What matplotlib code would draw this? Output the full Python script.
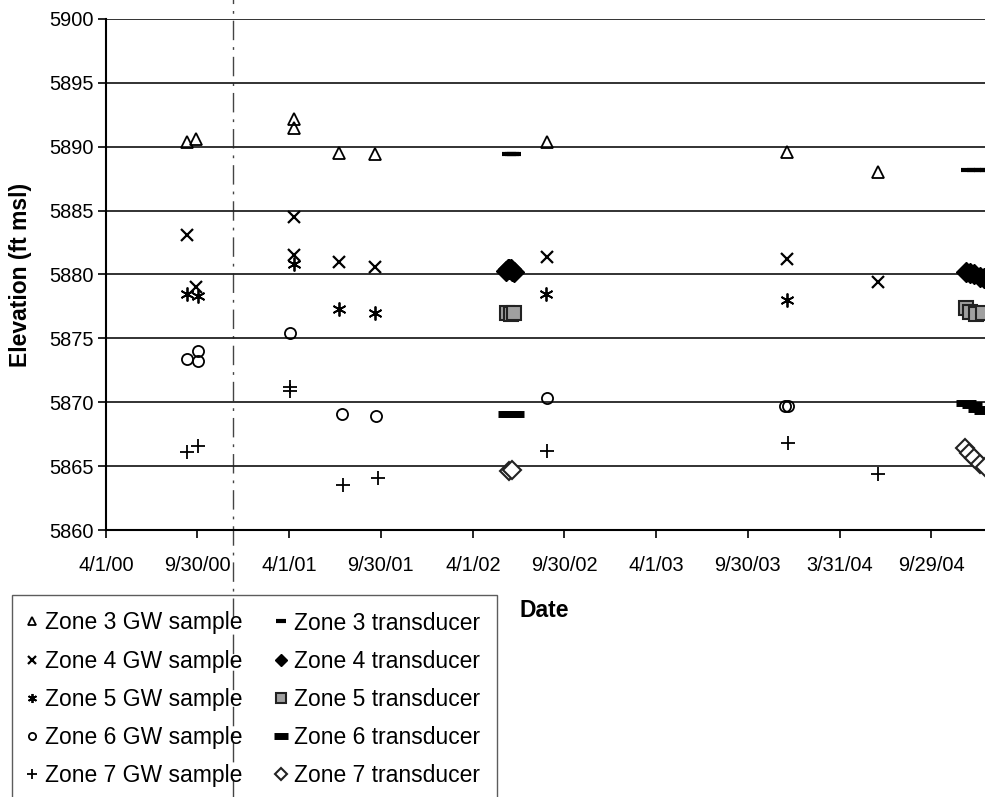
import matplotlib
matplotlib.use("Agg")
import matplotlib.pyplot as plt
from datetime import datetime

plt.rcParams['font.family'] = ['Liberation Sans', 'DejaVu Sans']

# --- data (dates m/d/y, elevation ft msl) ---
z3_gw_dates = ["9/10/00", "9/28/00", "4/11/01", "4/11/01", "7/9/01", "9/18/01",
               "8/26/02", "12/16/03", "6/15/04"]
z3_gw_elev = [5890.4, 5890.6, 5892.2, 5891.5, 5889.5, 5889.4, 5890.4, 5889.6, 5888.0]

z4_gw_dates = ["9/10/00", "9/28/00", "4/11/01", "4/10/01", "7/9/01", "9/18/01",
               "8/26/02", "12/16/03", "6/15/04"]
z4_gw_elev = [5883.1, 5879.0, 5884.5, 5881.5, 5881.0, 5880.6, 5881.4, 5881.2, 5879.4]

z5_gw_dates = ["9/10/00", "10/2/00", "4/10/01", "7/9/01", "9/18/01", "8/25/02", "12/16/03"]
z5_gw_elev = [5878.5, 5878.3, 5880.8, 5877.3, 5877.0, 5878.5, 5878.0]

z6_gw_dates = ["9/10/00", "10/1/00", "10/1/00", "4/2/01", "7/15/01", "9/21/01",
               "8/27/02", "12/14/03", "12/19/03"]
z6_gw_elev = [5873.4, 5874.0, 5873.2, 5875.4, 5869.1, 5868.9, 5870.3, 5869.7, 5869.7]

z7_gw_dates = ["9/10/00", "10/1/00", "4/2/01", "4/2/01", "7/17/01", "9/24/01",
               "8/27/02", "12/18/03", "6/15/04"]
z7_gw_elev = [5866.1, 5866.6, 5871.2, 5870.9, 5863.5, 5864.1, 5866.2, 5866.8, 5864.35]

z3_tr_dates = ["6/12/02", "6/17/02", "6/22/02", "12/12/04", "12/24/04", "1/5/05", "1/17/05"]
z3_tr_elev = [5889.4, 5889.4, 5889.4, 5888.2, 5888.2, 5888.2, 5888.2]

z4_tr_dates = ["6/6/02", "6/9/02", "6/12/02", "6/15/02", "6/18/02", "6/21/02",
               "12/8/04", "12/16/04", "12/24/04", "1/3/05", "1/12/05"]
z4_tr_elev = [5880.3, 5880.4, 5880.45, 5880.4, 5880.3, 5880.2,
              5880.2, 5880.1, 5880.0, 5879.8, 5879.75]

z5_tr_dates = ["6/8/02", "6/15/02", "6/22/02", "12/8/04", "12/16/04", "12/28/04", "1/10/05"]
z5_tr_elev = [5877.0, 5876.9, 5877.0, 5877.4, 5877.1, 5876.9, 5877.0]

z6_tr_dates = ["6/10/02", "6/16/02", "6/22/02", "12/8/04", "12/20/04", "1/1/05", "1/12/05"]
z6_tr_elev = [5869.1, 5869.1, 5869.1, 5869.95, 5869.8, 5869.5, 5869.3]

z7_tr_dates = ["6/11/02", "6/17/02", "12/6/04", "12/14/04", "12/24/04", "1/4/05", "1/14/05"]
z7_tr_elev = [5864.6, 5864.7, 5866.4, 5866.0, 5865.6, 5865.2, 5864.9]

divider_date = "12/10/00"

x_tick_labels = ["4/1/00", "9/30/00", "4/1/01", "9/30/01", "4/1/02", "9/30/02",
                 "4/1/03", "9/30/03", "3/31/04", "9/29/04"]
x_end = "3/30/05"   # axis runs on past the cropped right edge
y_ticks = [5860, 5865, 5870, 5875, 5880, 5885, 5890, 5895, 5900]


def to_dt(strs):
    return [datetime.strptime(s, "%m/%d/%y") for s in strs]


fig = plt.figure(figsize=(9.85, 7.97), dpi=100)
ax = fig.add_axes([0.1076, 0.3350, 0.9307, 0.6412])

gw = dict(linestyle='none', color='black')
ax.plot(to_dt(z3_gw_dates), z3_gw_elev, marker='^', ms=9, mfc='none', mew=1.3,
        label='Zone 3 GW sample', **gw)
ax.plot(to_dt(z4_gw_dates), z4_gw_elev, marker='x', ms=8, mew=1.6,
        label='Zone 4 GW sample', **gw)
ax.plot(to_dt(z5_gw_dates), z5_gw_elev, marker=(6, 2, 0), ms=10, mew=1.3,
        label='Zone 5 GW sample', **gw)
ax.plot(to_dt(z6_gw_dates), z6_gw_elev, marker='o', ms=8, mfc='none', mew=1.3,
        label='Zone 6 GW sample', **gw)
ax.plot(to_dt(z7_gw_dates), z7_gw_elev, marker='+', ms=10, mew=1.3,
        label='Zone 7 GW sample', **gw)

ax.plot(to_dt(z3_tr_dates), z3_tr_elev, marker='_', ms=10, mew=3,
        label='Zone 3 transducer', **gw)
ax.plot(to_dt(z4_tr_dates), z4_tr_elev, marker='D', ms=10, mec='black',
        label='Zone 4 transducer', **gw)
ax.plot(to_dt(z5_tr_dates), z5_tr_elev, marker='s', ms=10, mfc='#a0a0a0', mec='#222222',
        mew=1.5, label='Zone 5 transducer', **gw)
ax.plot(to_dt(z6_tr_dates), z6_tr_elev, marker='_', ms=15, mew=5,
        label='Zone 6 transducer', **gw)
ax.plot(to_dt(z7_tr_dates), z7_tr_elev, marker='D', ms=9, mfc='white', mec='#222222',
        mew=1.5, label='Zone 7 transducer', **gw)

# dash-dot divider running through the whole figure
ax.axvline(to_dt([divider_date])[0], ymin=-0.6, ymax=1.1, clip_on=False,
           color='#444444', lw=1.0, linestyle=(0, (14, 5, 2, 5)), zorder=0)

ax.set_ylim(5860, 5900)
ax.set_yticks(y_ticks)
xt = to_dt(x_tick_labels)
ax.set_xlim(xt[0], to_dt([x_end])[0])
ax.set_xticks(xt)
ax.set_xticklabels(x_tick_labels)

ax.grid(axis='y', color='#222222', lw=1.3)
ax.set_axisbelow(True)
for side in ['top', 'right']:
    ax.spines[side].set_visible(False)
for side in ['left', 'bottom']:
    ax.spines[side].set_linewidth(1.5)
ax.tick_params(axis='both', direction='out', length=6, width=1.2, labelsize=14.4)
ax.tick_params(axis='x', pad=13)
ax.tick_params(axis='y', pad=3)

ax.set_ylabel('Elevation (ft msl)', fontsize=16.5, fontweight='bold')
ax.yaxis.set_label_coords(-0.081, 0.5)
ax.set_xlabel('Date', fontsize=16.5, fontweight='bold')
ax.xaxis.set_label_coords(0.478, -0.135)

leg = ax.legend(ncol=2, loc='upper left', bbox_to_anchor=(11.7 / 985, 1 - 595 / 797),
                bbox_transform=fig.transFigure, fontsize=16.5, frameon=True,
                fancybox=False, edgecolor='#333333', facecolor='none',
                borderaxespad=0, handlelength=0.3, handletextpad=0.45,
                columnspacing=1.5, borderpad=0.72, labelspacing=0.66,
                markerscale=0.65)
leg.get_frame().set_linewidth(1.0)

fig.savefig('out.png', dpi=100)
